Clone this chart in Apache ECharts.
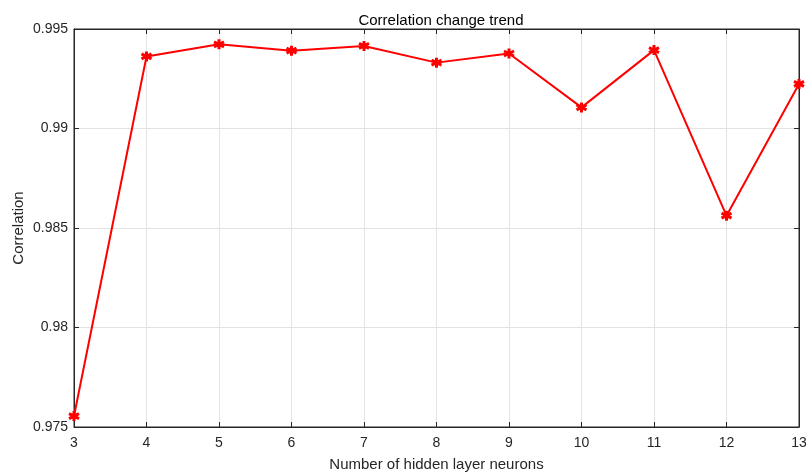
<!DOCTYPE html>
<html><head><meta charset="utf-8">
<script src="https://cdn.jsdelivr.net/npm/echarts@6/dist/echarts.min.js"></script>
<style>html,body{margin:0;padding:0;background:#fff}#c{width:807px;height:474px}</style>
</head><body><div id="c"></div>
<script>
var neurons = [3, 4, 5, 6, 7, 8, 9, 10, 11, 12, 13];
var correlation = [0.97555, 0.99362, 0.99423, 0.99391, 0.99415, 0.99331, 0.99377, 0.99106, 0.99394, 0.98562, 0.99224];
var xTicks = [3, 13, 1];
var yTicks = [0.975, 0.995, 0.005];

var chart = echarts.init(document.getElementById('c'));
var font = 'Helvetica, Arial, "Liberation Sans", sans-serif';
var axisCol = '#262626';
var gridCol = '#e3e3e3';
var data = neurons.map(function (n, i) { return [n, correlation[i]]; });
chart.setOption({
  animation: false,
  backgroundColor: '#fff',
  title: {
    text: 'Correlation change trend', left: 436, top: 8, textAlign: 'center',
    textStyle: { fontFamily: font, fontSize: 15, fontWeight: 'normal', color: '#000' }
  },
  grid: { left: 74, right: 8, top: 29, bottom: 47, show: true, borderColor: axisCol, borderWidth: 1, containLabel: false, outerBoundsMode: 'none' },
  xAxis: [{
    type: 'value', min: xTicks[0], max: xTicks[1], interval: xTicks[2],
    name: 'Number of hidden layer neurons', nameLocation: 'middle', nameGap: 30, nameMoveOverlap: false,
    nameTextStyle: { fontFamily: font, fontSize: 15, color: axisCol },
    axisLine: { lineStyle: { color: axisCol } },
    axisTick: { inside: true, length: 5, lineStyle: { color: axisCol } },
    axisLabel: { fontFamily: font, fontSize: 14, color: axisCol, margin: 9 },
    splitLine: { show: true, lineStyle: { color: gridCol } }
  }, {
    type: 'value', position: 'top', min: xTicks[0], max: xTicks[1], interval: xTicks[2],
    axisLine: { show: true, lineStyle: { color: axisCol } },
    axisTick: { show: true, inside: true, length: 5, lineStyle: { color: axisCol } },
    axisLabel: { show: false }, splitLine: { show: false }
  }],
  yAxis: [{
    type: 'value', min: yTicks[0], max: yTicks[1], interval: yTicks[2],
    name: 'Correlation', nameLocation: 'middle', nameGap: 48, nameMoveOverlap: false,
    nameTextStyle: { fontFamily: font, fontSize: 15, color: axisCol },
    axisLine: { show: true, lineStyle: { color: axisCol } },
    axisTick: { show: true, inside: true, length: 5, lineStyle: { color: axisCol } },
    axisLabel: { fontFamily: font, fontSize: 14, color: axisCol, margin: 6 },
    splitLine: { show: true, lineStyle: { color: gridCol } }
  }, {
    type: 'value', position: 'right', min: yTicks[0], max: yTicks[1], interval: yTicks[2],
    axisLine: { show: true, lineStyle: { color: axisCol } },
    axisTick: { show: true, inside: true, length: 5, lineStyle: { color: axisCol } },
    axisLabel: { show: false }, splitLine: { show: false }
  }],
  series: [{
    type: 'line', data: data, xAxisIndex: 0, yAxisIndex: 0,
    lineStyle: { color: '#ff0000', width: 2 },
    symbol: 'path://M0,-5L0,5M-4.33,-2.5L4.33,2.5M-4.33,2.5L4.33,-2.5',
    symbolSize: 10,
    itemStyle: { color: '#ff0000', borderColor: '#ff0000', borderWidth: 3 },
    showSymbol: true
  }]
});
</script></body></html>
